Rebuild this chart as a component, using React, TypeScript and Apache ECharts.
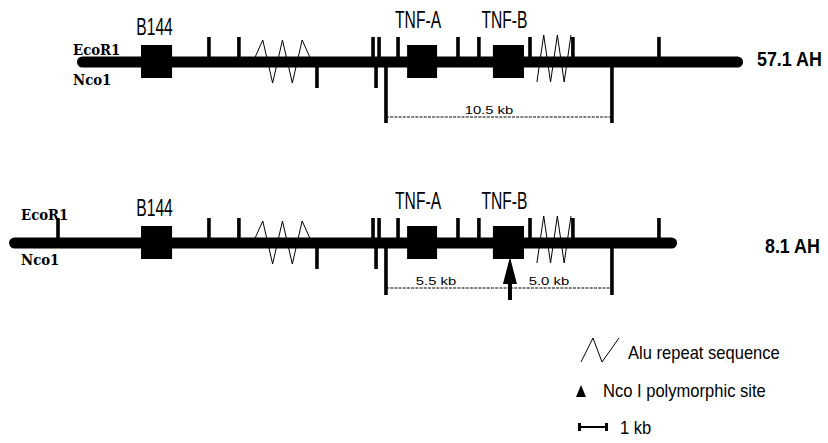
import React, { useEffect, useRef } from "react";
import * as echarts from "echarts";

// ---- data (positions along the locus, in kb) ----
const haplotypes = ["57.1 AH", "8.1 AH"];
const backboneStart = [3.57, 0.42];
const backboneEnd = [34.46, 31.4];

const genes = ["B144", "TNF-A", "TNF-B"];
const geneStart = [6.54, 18.88, 22.86];
const geneEnd = [7.98, 20.27, 24.3];

const ecoR1Shared = [9.69, 11.08, 17.3, 17.58, 18.46, 21.24, 22.21, 24.58, 26.57, 30.56];
const ecoR1Only81 = [2.69];
const nco1Short = [14.7, 17.44];
const nco1Long = [17.9, 28.38];

const aluStart = [11.73, 24.9];
const aluEnd = [14.47, 26.48];

const polymorphicSite81 = [23.65];

const fragLabels571 = ["10.5 kb"];
const fragStart571 = [17.9];
const fragEnd571 = [28.38];
const fragLabels81 = ["5.5 kb", "5.0 kb"];
const fragStart81 = [17.9, 23.65];
const fragEnd81 = [23.65, 28.38];

// ---- layout ----
const ROW_Y = [62, 243];
const LONG_DEPTH = [61, 52];
const DASH_OFF = [55, 45];
const FRAG_LABEL_OFF = [48, 38];
const SANS = '"Liberation Sans", Arial, sans-serif';
const SERIF = '"DejaVu Serif", serif';

function custom(data: any[], renderItem: any) {
  return {
    type: "custom",
    coordinateSystem: "cartesian2d",
    data,
    renderItem,
    clip: false,
    silent: true,
  };
}

export default function App() {
  const ref = useRef<HTMLDivElement>(null);
  useEffect(() => {
    if (!ref.current) return;
    const chart = echarts.init(ref.current, undefined, { renderer: "svg" });

    const backboneData = haplotypes.map((_, i) => [backboneStart[i], backboneEnd[i], i]);
    const geneData: number[][] = [];
    for (let r = 0; r < 2; r++)
      genes.forEach((_, g) => geneData.push([geneStart[g], geneEnd[g], r, g]));
    const siteData: number[][] = [
      ...ecoR1Shared.flatMap((x) => [[x, 0, 0], [x, 1, 0]]),
      ...ecoR1Only81.map((x) => [x, 1, 0]),
      ...nco1Short.flatMap((x) => [[x, 0, 1], [x, 1, 1]]),
      ...nco1Long.flatMap((x) => [[x, 0, 2], [x, 1, 2]]),
    ];
    const aluData: number[][] = [];
    for (let r = 0; r < 2; r++)
      aluStart.forEach((_, i) => aluData.push([aluStart[i], aluEnd[i], r, i]));
    const fragData: number[][] = [
      ...fragLabels571.map((_, i) => [fragStart571[i], fragEnd571[i], 0, i]),
      ...fragLabels81.map((_, i) => [fragStart81[i], fragEnd81[i], 1, i]),
    ];
    const arrowData = polymorphicSite81.map((x) => [x, 1]);

    const backbone = custom(backboneData, (_p: any, api: any) => {
      const r = api.value(2);
      const a = api.coord([api.value(0), ROW_Y[r]]);
      const b = api.coord([api.value(1), ROW_Y[r]]);
      return {
        type: "rect",
        shape: { x: a[0], y: a[1] - 5.5, width: b[0] - a[0], height: 11, r: 5.5 },
        style: { fill: "#000" },
      };
    });

    const sites = custom(siteData, (_p: any, api: any) => {
      const r = api.value(1);
      const kind = api.value(2);
      const c = api.coord([api.value(0), ROW_Y[r]]);
      let y0 = c[1], y1 = c[1];
      if (kind === 0) y0 = c[1] - 25;
      else if (kind === 1) y1 = c[1] + 26;
      else y1 = c[1] + LONG_DEPTH[r];
      return {
        type: "rect",
        shape: { x: c[0] - 1.8, y: y0, width: 3.6, height: y1 - y0 },
        style: { fill: "#000" },
      };
    });

    const geneSeries = custom(geneData, (_p: any, api: any) => {
      const r = api.value(2);
      const g = api.value(3);
      const a = api.coord([api.value(0), ROW_Y[r]]);
      const b = api.coord([api.value(1), ROW_Y[r]]);
      const cx = (a[0] + b[0]) / 2;
      const ly = g === 0 ? a[1] - 35 : a[1] - 42;
      return {
        type: "group",
        children: [
          {
            type: "rect",
            shape: { x: a[0], y: a[1] - 17, width: b[0] - a[0], height: 33 },
            style: { fill: "#000" },
          },
          {
            type: "text",
            x: g === 0 ? cx - 2 : cx - 4,
            y: ly,
            scaleX: 0.68,
            style: {
              text: genes[g],
              fill: "#000",
              fontSize: 23,
              fontFamily: SANS,
              align: "center",
              verticalAlign: "middle",
            },
          },
        ],
      };
    });

    const aluSeries = custom(aluData, (_p: any, api: any) => {
      const r = api.value(2);
      const i = api.value(3);
      const a = api.coord([api.value(0), ROW_Y[r]]);
      const b = api.coord([api.value(1), ROW_Y[r]]);
      const pts: number[][] = [];
      if (i === 0) {
        for (let k = 0; k <= 6; k++) {
          const x = a[0] + (k * (b[0] - a[0])) / 6;
          const y = k === 0 || k === 6 ? a[1] : k % 2 === 1 ? a[1] - 22 : a[1] + 21;
          pts.push([x, y]);
        }
      } else {
        for (let k = 0; k <= 5; k++) {
          const x = a[0] + (k * (b[0] - a[0])) / 5;
          const y = k % 2 === 0 ? a[1] + 20 : a[1] - 27;
          pts.push([x, y]);
        }
      }
      return {
        type: "polyline",
        shape: { points: pts },
        style: { stroke: "#000", lineWidth: 1, fill: null },
      };
    });

    const fragSeries = custom(fragData, (_p: any, api: any) => {
      const r = api.value(2);
      const i = api.value(3);
      const a = api.coord([api.value(0), ROW_Y[r]]);
      const b = api.coord([api.value(1), ROW_Y[r]]);
      const label = r === 0 ? fragLabels571[i] : fragLabels81[i];
      const cx = (a[0] + b[0]) / 2 - (r === 0 ? 10 : 12);
      return {
        type: "group",
        children: [
          {
            type: "line",
            shape: { x1: a[0], y1: a[1] + DASH_OFF[r], x2: b[0], y2: a[1] + DASH_OFF[r] },
            style: { stroke: "#000", lineWidth: 1, lineDash: [3, 1.2] },
          },
          {
            type: "text",
            x: cx,
            y: a[1] + FRAG_LABEL_OFF[r],
            scaleX: 1.35,
            style: {
              text: label,
              fill: "#000",
              fontSize: 11,
              fontFamily: SANS,
              align: "center",
              verticalAlign: "middle",
            },
          },
        ],
      };
    });

    const arrowSeries = custom(arrowData, (_p: any, api: any) => {
      const r = api.value(1);
      const c = api.coord([api.value(0), ROW_Y[r]]);
      const x = c[0], y = c[1];
      return {
        type: "group",
        children: [
          {
            type: "polygon",
            shape: { points: [[x, y + 14], [x - 7, y + 41], [x + 7, y + 41]] },
            style: { fill: "#000" },
          },
          {
            type: "rect",
            shape: { x: x - 2, y: y + 40, width: 4, height: 17 },
            style: { fill: "#000" },
          },
        ],
      };
    });

    const txt = (text: string, x: number, y: number, o: any = {}) => ({
      type: "text",
      x,
      y,
      scaleX: o.scaleX ?? 1,
      silent: true,
      style: {
        text,
        fill: "#000",
        fontSize: o.fontSize ?? 18,
        fontFamily: o.fontFamily ?? SANS,
        fontWeight: o.fontWeight ?? "normal",
        align: "left",
        verticalAlign: "middle",
      },
    });

    const serifOpt = { fontSize: 14, fontFamily: SERIF, fontWeight: "bold", scaleX: 0.95 };
    const graphic: any[] = [
      txt(haplotypes[0], 757, 58, { fontSize: 21, fontWeight: "bold", scaleX: 0.85 }),
      txt(haplotypes[1], 765, 245, { fontSize: 21, fontWeight: "bold", scaleX: 0.85 }),
      txt("EcoR1", 73, 50, serifOpt),
      txt("Nco1", 73, 80, serifOpt),
      txt("EcoR1", 21, 215, serifOpt),
      txt("Nco1", 21, 260, serifOpt),
      // legend
      {
        type: "polyline",
        silent: true,
        shape: { points: [[581, 362], [593, 338], [602, 362], [619, 338]] },
        style: { stroke: "#000", lineWidth: 1, fill: null },
      },
      txt("Alu repeat sequence", 628, 353, { scaleX: 0.92 }),
      {
        type: "polygon",
        silent: true,
        shape: { points: [[581, 385], [576, 397], [586, 397]] },
        style: { fill: "#000" },
      },
      txt("Nco I polymorphic site", 603, 391, { scaleX: 0.92 }),
      {
        type: "line",
        silent: true,
        shape: { x1: 579, y1: 427, x2: 607, y2: 427 },
        style: { stroke: "#000", lineWidth: 2 },
      },
      { type: "rect", silent: true, shape: { x: 578, y: 423, width: 3, height: 8 }, style: { fill: "#000" } },
      { type: "rect", silent: true, shape: { x: 605, y: 423, width: 3, height: 8 }, style: { fill: "#000" } },
      txt("1 kb", 620, 428, { scaleX: 0.92 }),
    ];

    chart.setOption({
      animation: false,
      backgroundColor: "#fff",
      grid: { left: 0, right: 0, top: 0, bottom: 0, containLabel: false },
      xAxis: { type: "value", min: 0, max: 38.4, show: false },
      yAxis: { type: "value", min: 0, max: 443, inverse: true, show: false },
      graphic,
      series: [backbone, aluSeries, sites, geneSeries, fragSeries, arrowSeries],
    });

    return () => chart.dispose();
  }, []);

  return (
    <div
      ref={ref}
      style={{ position: "absolute", left: 0, top: 0, width: 828, height: 443, background: "#fff" }}
    />
  );
}
